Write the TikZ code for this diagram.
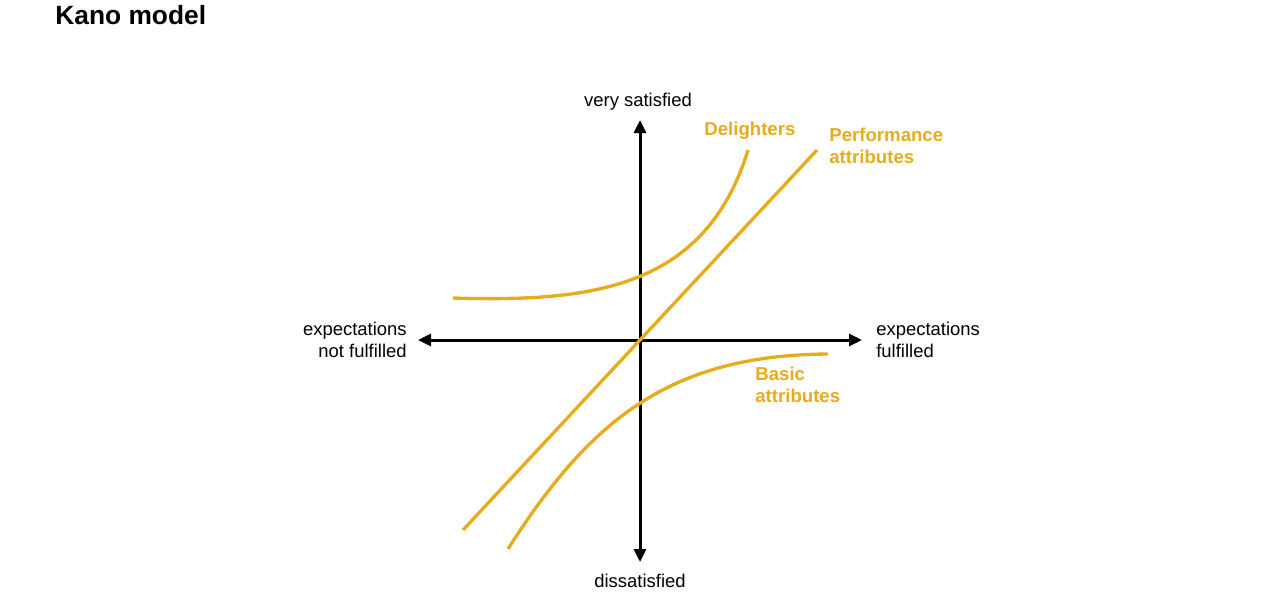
\documentclass[tikz,border=0pt]{standalone}
\usepackage{fontspec}
\setmainfont{Liberation Sans}
\usetikzlibrary{arrows.meta}
\definecolor{kanoyellow}{RGB}{231,172,30}

\begin{document}
\begin{tikzpicture}[x=0.02cm,y=-0.02cm]
    \tikzstyle{every node}=[font=\fontsize{10.5}{12}\selectfont,inner sep=0pt]
    \tikzstyle{axis}=[line width=1.7pt,{Triangle[length=7.4pt,width=6.8pt]}-{Triangle[length=7.4pt,width=6.8pt]}]
    \tikzstyle{kano}=[kanoyellow,line width=1.9pt]
    \tikzstyle{kanolabel}=[kanoyellow,font=\fontsize{10.6}{12.5}\selectfont\bfseries,align=left]
    \useasboundingbox (0,0) rectangle (1278,603);
    \begin{scope}

       \node[anchor=base west,font=\fontsize{15}{18}\selectfont\bfseries] (title) at (55,24) {Kano model};

       \coordinate (top) at (640,120);
       \coordinate (bottom) at (640,562);
       \coordinate (left) at (418,340);
       \coordinate (right) at (862,340);
       \draw[axis] (bottom) -- (top);
       \draw[axis] (left) -- (right);

       \node[anchor=base] (satisfied) at (638,106) {very satisfied};
       \node[anchor=base] (dissatisfied) at (640,587) {dissatisfied};
       \node[anchor=base east,align=right] (notfulfilled) at (407,357) {expectations\\not fulfilled};
       \node[anchor=base west,align=left] (fulfilled) at (876,357) {expectations\\fulfilled};

       \coordinate (perf1) at (463,530);
       \coordinate (perf2) at (817,150);
       \draw[kano] (perf1) -- (perf2);

       \coordinate (del1) at (453,298);
       \coordinate (del2) at (748,150);
       \draw[kano] (del1) .. controls (590,302) and (705,290) .. (del2);

       \coordinate (bas1) at (508,549);
       \coordinate (bas2) at (828,354);
       \draw[kano] (bas1) .. controls (590,420) and (670,355) .. (bas2);

       \node[kanolabel,anchor=base west] (delighters) at (704,135) {Delighters};
       \node[kanolabel,anchor=base west] (performance) at (829,163) {Performance\\attributes};
       \node[kanolabel,anchor=base west] (basic) at (755,402) {Basic\\attributes};

    \end{scope}
\end{tikzpicture}
\end{document}
